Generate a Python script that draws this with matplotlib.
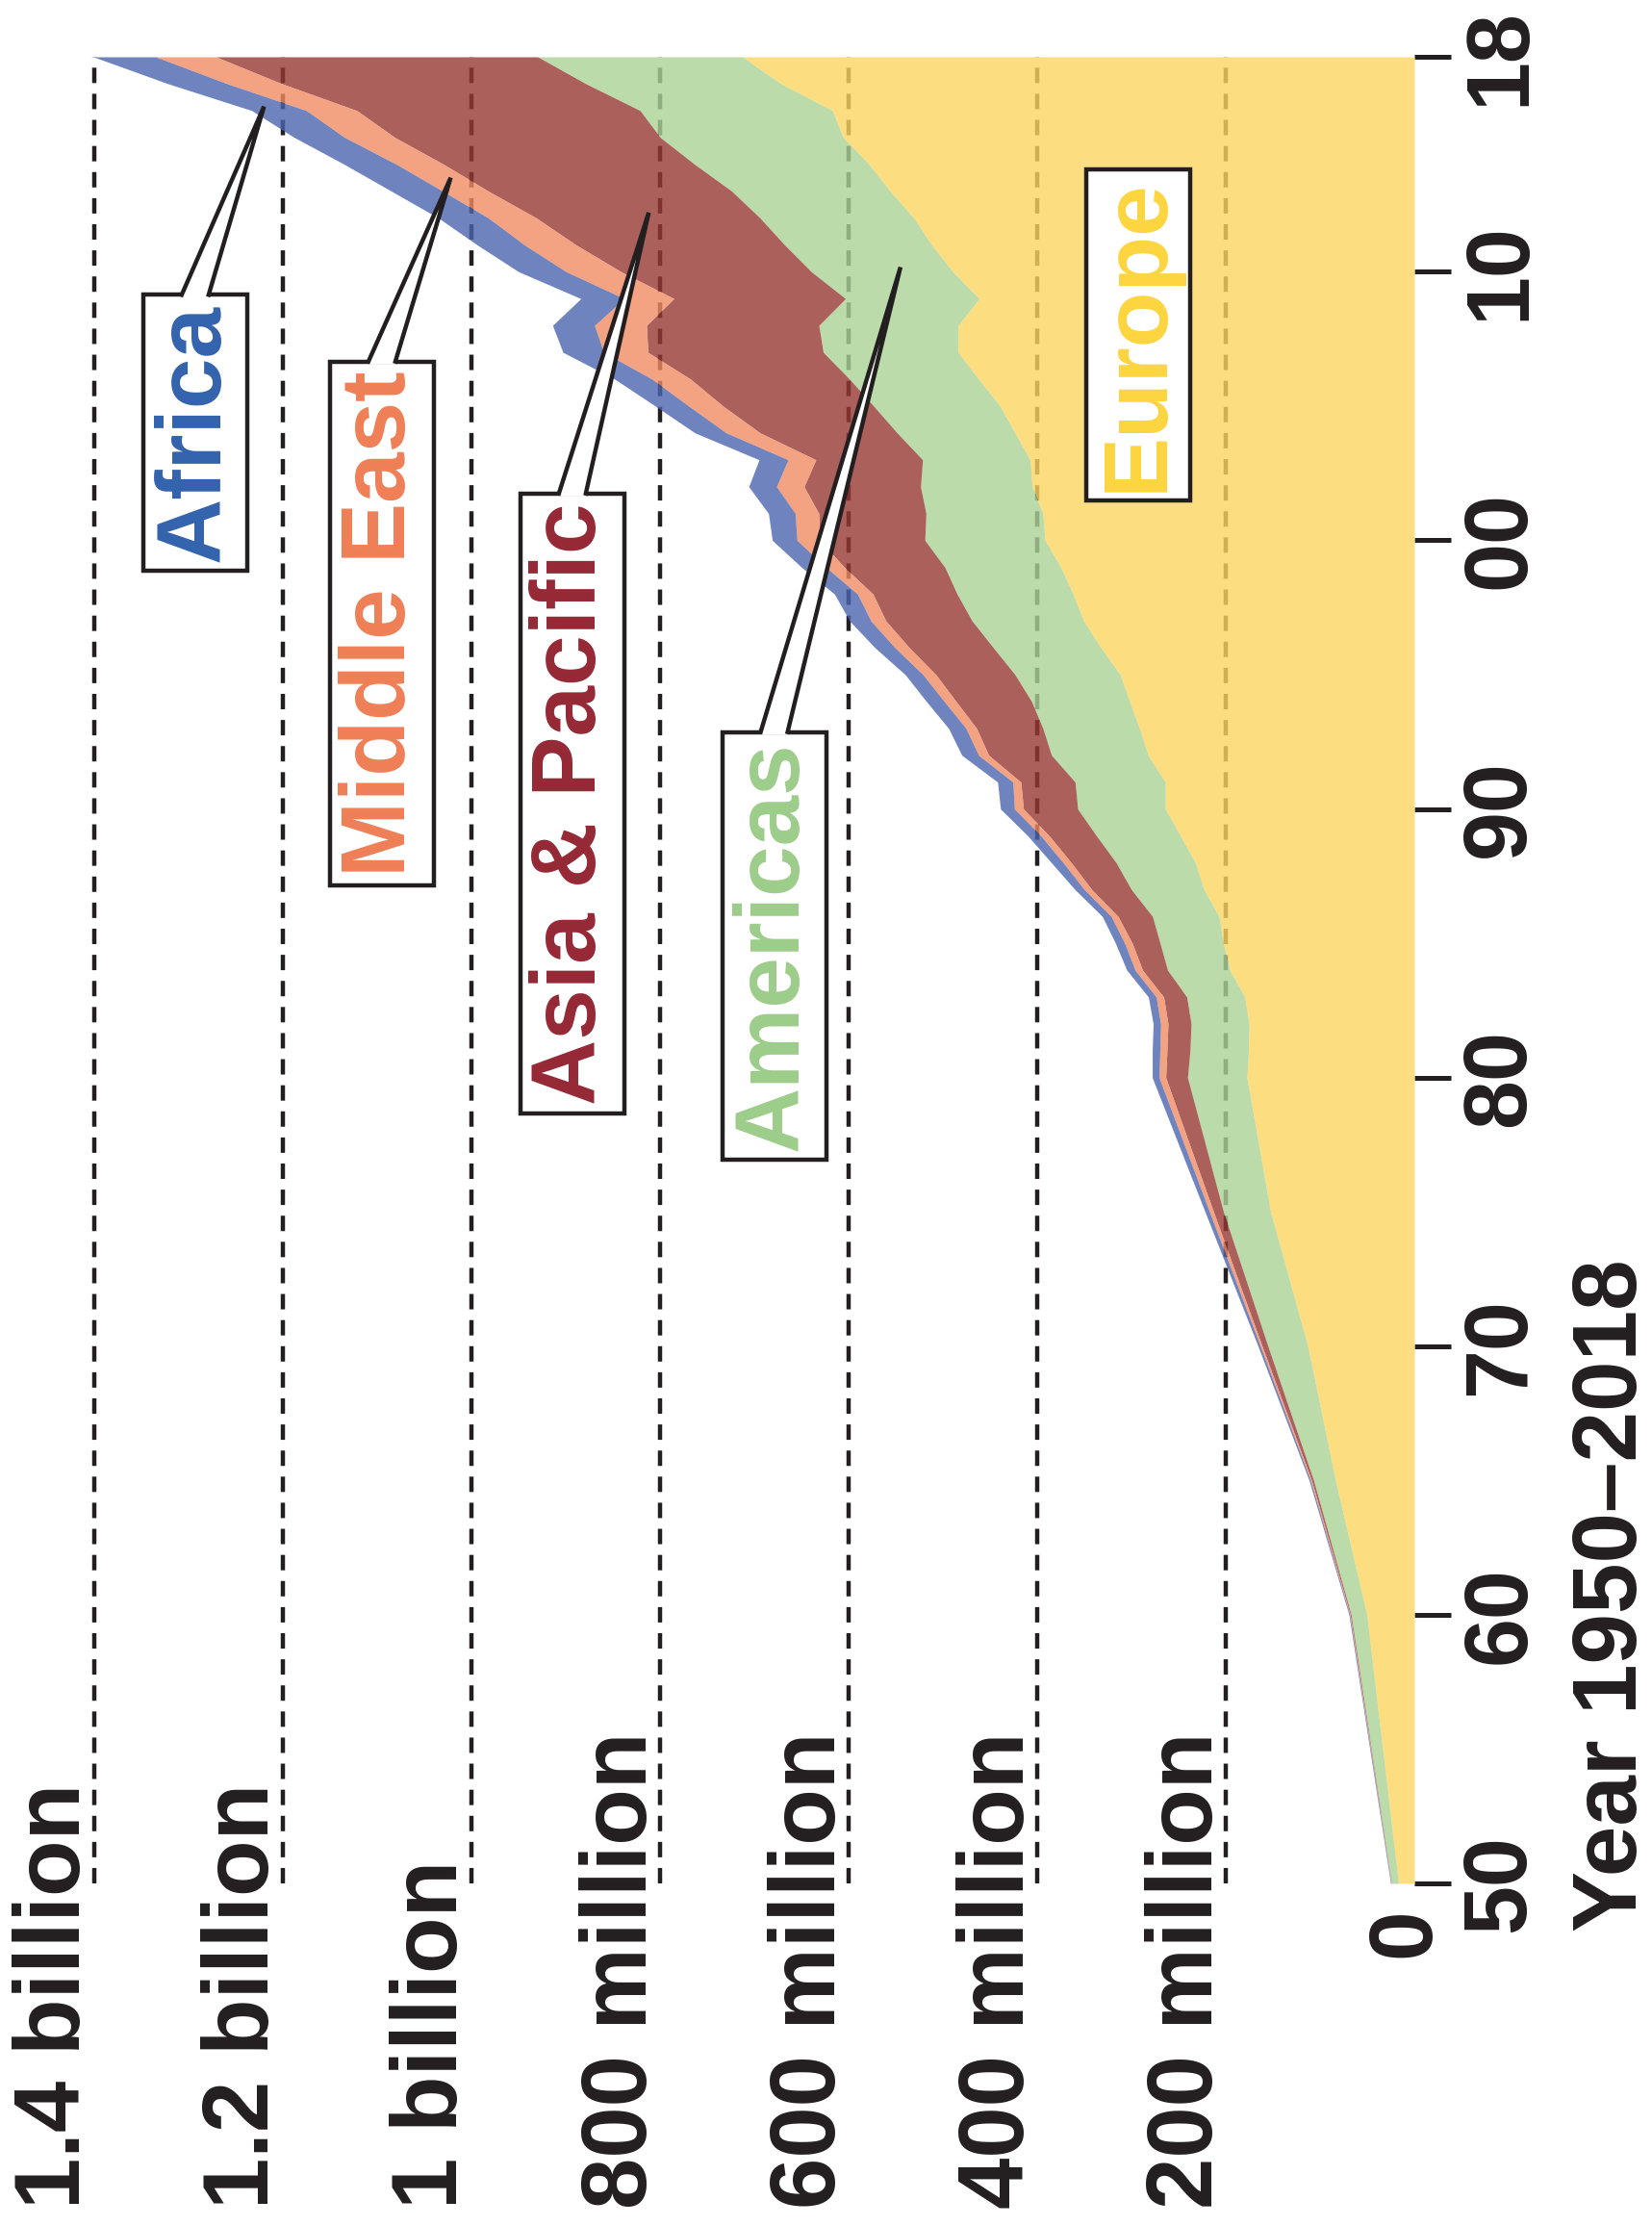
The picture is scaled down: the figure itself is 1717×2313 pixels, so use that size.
"""
Rotated stacked area chart: international tourist arrivals by region, 1950-2018.
Years run up the right-hand side, arrivals grow to the left.
"""

import numpy as np
import matplotlib
matplotlib.use("Agg")
import matplotlib.pyplot as plt
from matplotlib import transforms
from matplotlib.patches import Polygon
from matplotlib.lines import Line2D

# ── data (millions of arrivals) ───────────────────────────────────────────────
years = [1950, 1960, 1965, 1970, 1975] + list(range(1980, 2019))

europe = [16.8, 50.4, 83.7, 113.0, 152.5,
          177.6, 176.0, 175.3, 179.9, 195.8, 202.7, 207.2, 223.2, 232.3, 248.2,
          264.1, 264.1, 282.4, 291.5, 302.0, 312.0, 332.5, 350.7, 362.0, 375.0,
          391.7, 394.0, 405.4, 407.6, 423.6, 439.5, 462.0, 484.0, 484.0, 461.4,
          489.6, 512.0, 531.0, 556.0, 578.4, 605.8, 617.2, 671.8, 712.8]
americas = [7.5, 16.7, 23.2, 42.3, 50.0,
            63.0, 62.0, 61.5, 61.5, 66.0, 67.0, 70.6, 77.0, 84.0, 89.0,
            93.0, 95.7, 102.5, 102.5, 104.0, 111.6, 114.0, 118.4, 123.0, 123.0,
            127.5, 124.0, 118.4, 114.0, 125.0, 134.0, 137.0, 143.0, 147.6, 142.0,
            150.0, 156.0, 163.0, 168.0, 185.0, 194.0, 204.0, 207.0, 217.0]
asia_pacific = [0.2, 0.9, 2.1, 6.2, 10.5,
                23.1, 24.4, 24.5, 24.5, 26.5, 29.5, 36.5, 42.0, 47.6, 50.1,
                57.5, 57.6, 66.6, 70.3, 80.0, 83.9, 89.1, 91.4, 89.2, 106.6,
                111.5, 113.7, 123.5, 113.2, 145.3, 159.8, 168.6, 185.9, 182.8, 181.9,
                201.8, 221.2, 237.2, 258.1, 266.2, 281.5, 300.4, 322.4, 341.2]
middle_east = [0.2, 0.6, 1.2, 1.9, 4.3,
               7.1, 7.5, 7.8, 8.0, 7.9, 8.1, 7.3, 7.9, 8.6, 8.9,
               9.6, 8.4, 10.7, 11.3, 12.6, 13.7, 15.2, 15.9, 16.4, 19.5,
               24.1, 25.0, 29.2, 29.5, 35.9, 36.3, 40.9, 46.9, 55.2, 52.8,
               58.2, 54.7, 50.9, 48.5, 50.1, 53.3, 53.6, 58.1, 64.0]
africa = [0.5, 0.8, 1.4, 2.4, 4.7,
          7.2, 8.1, 7.9, 8.2, 8.8, 9.7, 9.4, 9.9, 12.5, 13.8,
          14.8, 16.2, 17.8, 18.4, 18.9, 18.8, 21.2, 22.6, 24.4, 25.9,
          26.2, 28.3, 29.5, 30.7, 33.2, 35.4, 39.5, 43.2, 44.4, 45.9,
          50.4, 50.1, 52.9, 54.4, 55.3, 53.4, 57.8, 62.7, 66.0]

regions = ["Europe", "Americas", "Asia & Pacific", "Middle East", "Africa"]
series = [europe, americas, asia_pacific, middle_east, africa]

grid_values = [200, 400, 600, 800, 1000, 1200, 1400]
grid_labels = ["200 million", "400 million", "600 million", "800 million",
               "1 billion", "1.2 billion", "1.4 billion"]
year_ticks = [1950, 1960, 1970, 1980, 1990, 2000, 2010, 2018]
year_tick_labels = ["50", "60", "70", "80", "90", "00", "10", "18"]

# ── style ─────────────────────────────────────────────────────────────────────
INK = "#231f20"
ALPHA = 0.8
FILL = {"Europe": "#fcd660", "Americas": "#abd296", "Asia & Pacific": "#983832",
        "Middle East": "#f18c63", "Africa": "#4b64ae"}
TEXT = {"Europe": "#fcd53f", "Americas": "#9dcd8a", "Asia & Pacific": "#952835",
        "Middle East": "#ef7f56", "Africa": "#3363ad"}

# label box centres (value, year) and pointer tips (value, year)
BOX_AT = {"Africa": (1293, 2004.0), "Middle East": (1095, 1996.9),
          "Asia & Pacific": (893, 1990.2), "Americas": (679, 1984.9),
          "Europe": (293, 2007.65)}
TIP_AT = {"Africa": (1220, 2016.15), "Middle East": (1022, 2013.5),
          "Asia & Pacific": (812, 2012.2), "Americas": (545, 2010.17)}

plt.rcParams["font.family"] = ["Liberation Sans", "DejaVu Sans"]
plt.rcParams["font.weight"] = "bold"

W, H = 1717, 2313
fig = plt.figure(figsize=(W / 100, H / 100), dpi=100)
ax = fig.add_axes([98 / W, 1 - 1957 / H, (1470 - 98) / W, (1957 - 59) / H])
ax.set_xlim(1400, 0)
ax.set_ylim(1950, 2018)

# dashed value gridlines (under the translucent fills)
for v in grid_values:
    ax.axvline(v, color=INK, lw=3.2, ls=(0, (3.6, 2.5)), zorder=1, clip_on=False)

# stacked areas
yrs = np.array(years, dtype=float)
base = np.zeros(len(years))
for name, vals in zip(regions, series):
    top = base + np.array(vals)
    ax.fill_betweenx(yrs, base, top, color=FILL[name], alpha=ALPHA, lw=0, zorder=2)
    base = top

# year axis on the right
ax.yaxis.tick_right()
ax.set_yticks(year_ticks)
ax.set_yticklabels(year_tick_labels, rotation=90, va="center", fontsize=66,
                   fontweight="bold", color=INK)
ax.tick_params(axis="y", length=27, width=3.6, pad=7, colors=INK, direction="out")
ax.set_xticks([])
for s in ax.spines.values():
    s.set_visible(False)

# value labels beside each gridline, anchored at the bottom of the figure
lab_tr = transforms.offset_copy(
    transforms.blended_transform_factory(ax.transData, fig.transFigure),
    fig=fig, x=0.055, y=0, units="inches")
for v, lab in zip(grid_values, grid_labels):
    ax.text(v, 18 / H, lab, transform=lab_tr, rotation=90, ha="right",
            va="bottom", fontsize=69, color=INK)

zero_tr = transforms.offset_copy(ax.transData, fig=fig, x=-0.09, y=-0.25,
                                 units="inches")
ax.text(0, 1950, "0", transform=zero_tr, rotation=90, ha="center", va="top",
        fontsize=67, color=INK)

fig.text(1676 / W, (H - 2007) / H, "Year 1950\u20132018", rotation=90,
         ha="center", va="bottom", fontsize=68, color=INK)

# region label boxes
boxes = {}
for name in regions:
    v, y = BOX_AT[name]
    boxes[name] = ax.text(v, y, name, rotation=90, ha="center", va="center",
                          fontsize=68, color=TEXT[name], zorder=5,
                          bbox=dict(boxstyle="square,pad=0.1", fc="white",
                                    ec=INK, lw=3.2))

# wedge pointers from box tops to the bands
fig.canvas.draw()
renderer = fig.canvas.get_renderer()
ident = transforms.IdentityTransform()
half = 14
for name, tip in TIP_AT.items():
    bb = boxes[name].get_bbox_patch().get_window_extent(renderer)
    cx, y1 = (bb.x0 + bb.x1) / 2, bb.y1
    tx, ty = ax.transData.transform(tip)
    fig.add_artist(Polygon([(cx - half, y1 - 3), (cx + half, y1 - 3), (tx, ty)],
                           closed=True, fc="white", ec="none", zorder=6,
                           transform=ident))
    fig.add_artist(Line2D([cx - half, tx, cx + half], [y1, ty, y1], lw=3.2,
                          color=INK, solid_joinstyle="miter", zorder=7,
                          transform=ident))

fig.savefig("out.png", dpi=100)
